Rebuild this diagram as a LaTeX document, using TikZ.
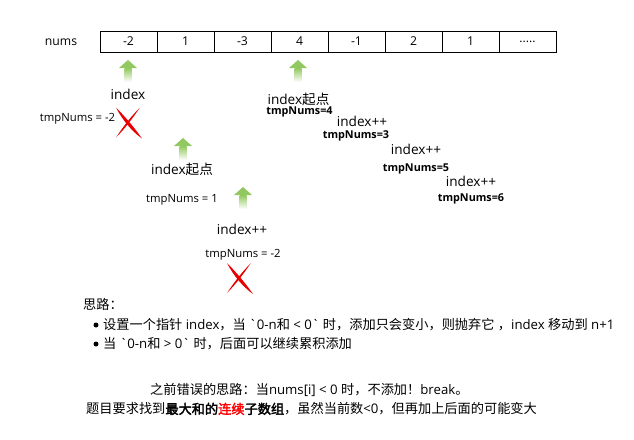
\documentclass[tikz,border=0pt]{standalone}
\usepackage{fontspec}
\setmainfont{Open Sans}[Ligatures=TeXOff]
\newfontfamily\cjkfont{Noto Sans CJK SC}[AutoFakeBold=2.5]
\newcommand{\zh}[1]{{\cjkfont #1}}
\definecolor{arrowgreen}{RGB}{146,200,96}
\definecolor{crossred}{RGB}{232,0,0}
\newcommand{\greenarrow}[1]{%
  \begin{scope}[shift={#1}]
    \fill[arrowgreen] (0,0) -- (9,8) -- (-9,8) -- cycle;
    \shade[top color=arrowgreen,bottom color=white] (-3.5,8) rectangle (3.5,22);
  \end{scope}}
\newcommand{\redcross}[1]{%
  \begin{scope}[shift={#1}]
    \fill[crossred] (-13,-15) .. controls (-3,-5) and (6,6) .. (13,16) .. controls (3,9) and (-7,-3) .. cycle;
    \fill[crossred] (11,-15) .. controls (2,-6) and (-5,3) .. (-13,15) .. controls (-3,5) and (4,-5) .. cycle;
  \end{scope}}
\begin{document}
\begin{tikzpicture}[x=1pt,y=-1pt,
  cell/.style={draw,rectangle,minimum width=57pt,minimum height=21pt,inner sep=0pt,font=\fontsize{12.2}{14}\selectfont},
  lbl/.style={anchor=base,inner sep=0pt,font=\fontsize{13.6}{16}\selectfont},
  val/.style={anchor=base,inner sep=0pt,font=\fontsize{11.3}{13}\selectfont},
  valb/.style={anchor=base,inner sep=0pt,font=\fontsize{10.8}{12}\selectfont\bfseries},
  note/.style={anchor=west,inner sep=0pt,font=\fontsize{13.2}{15}\selectfont}]
\useasboundingbox[fill=white] (0,0) rectangle (634,439);
\node[cell] (c1) at (128.5,41.5) {-2};
\node[cell] (c2) at (185.5,41.5) {1};
\node[cell] (c3) at (242.5,41.5) {-3};
\node[cell] (c4) at (299.5,41.5) {4};
\node[cell] (c5) at (356.5,41.5) {-1};
\node[cell] (c6) at (413.5,41.5) {2};
\node[cell] (c7) at (470.5,41.5) {1};
\node[cell] (c8) at (527.5,41.5) {.....};
\node[val,font=\fontsize{12.2}{14}\selectfont] (nums) at (c1.base -| 61,0) {nums};
\greenarrow{(128,60)}
\greenarrow{(298,60)}
\greenarrow{(183,138)}
\greenarrow{(243,187)}
\node[lbl] (idx1) at (128,99) {index};
\node[val] (tmp1) at (77.5,121.5) {tmpNums = -2};
\redcross{(129,122.5)}
\node[lbl] (idx2) at (182,174) {index\zh{起点}};
\node[val] (tmp2) at (182,202.5) {tmpNums = 1};
\node[lbl] (idx3) at (242,234) {index++};
\node[val] (tmp3) at (243,257.5) {tmpNums = -2};
\redcross{(240,278)}
\node[lbl] (idx4) at (298.5,104) {index\zh{起点}};
\node[valb] (tmp4) at (299.5,114) {tmpNums=4};
\node[lbl] (idx5) at (362,126.5) {index++};
\node[valb] (tmp5) at (356,138) {tmpNums=3};
\node[lbl] (idx6) at (416,154) {index++};
\node[valb] (tmp6) at (416,171.5) {tmpNums=5};
\node[lbl] (idx7) at (471,186) {index++};
\node[valb] (tmp7) at (471,201.5) {tmpNums=6};
\node[note] (idea) at (83,304) {\zh{思路：}};
\fill (96,325) circle (2.5);
\node[note] (idea1) at (103,325) {\zh{设置一个指针} index\zh{，当} `0-n\zh{和} < 0` \zh{时，添加只会变小，则抛弃它} \zh{，}index \zh{移动到} n+1};
\fill (96,344) circle (2.5);
\node[note] (idea2) at (103,344) {\zh{当} `0-n\zh{和} > 0` \zh{时，后面可以继续累积添加}};
\node[note] (wrong) at (150,390) {\zh{之前错误的思路：当}nums[i] < 0 \zh{时，不添加！}break\zh{。}};
\node[note] (goal) at (86,409) {\zh{题目要求找到\textbf{最大和的\textcolor{red}{连续}子数组}，虽然当前数}<0\zh{，但再加上后面的可能变大}};
\end{tikzpicture}
\end{document}
